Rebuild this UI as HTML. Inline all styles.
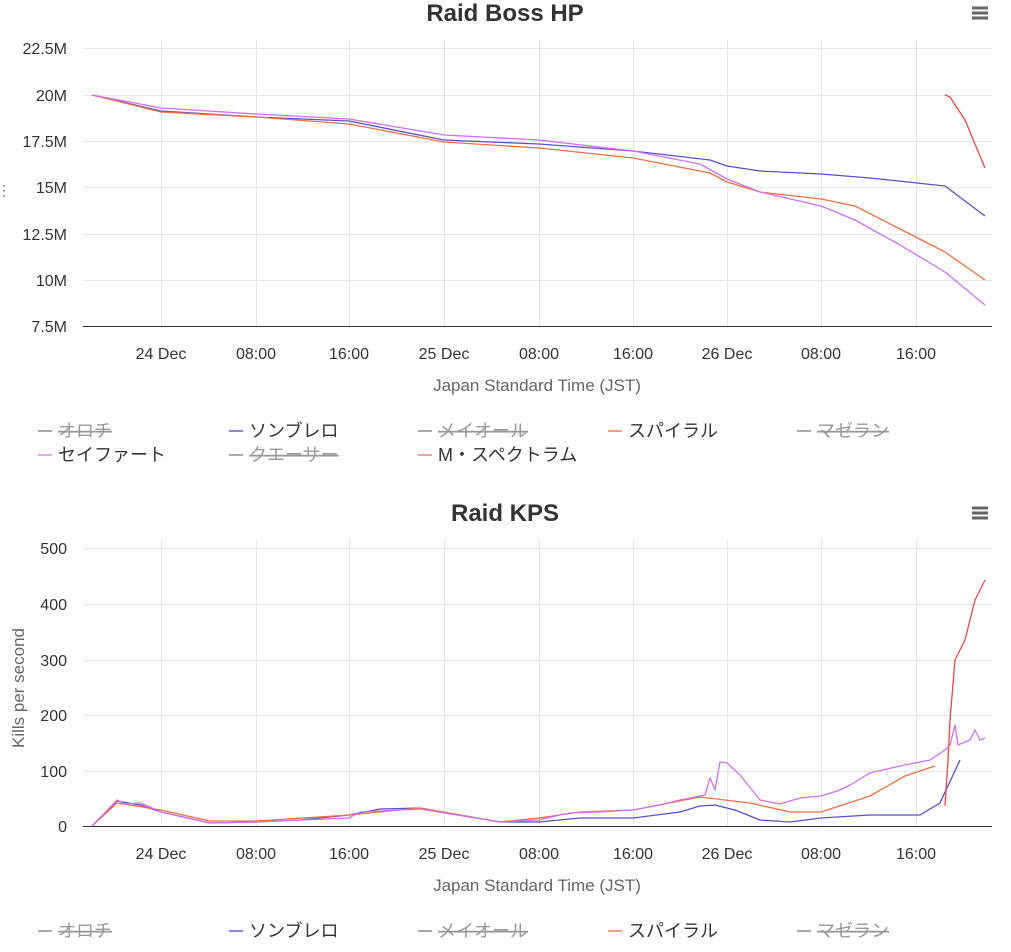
<!DOCTYPE html>
<html><head><meta charset="utf-8"><style>
body{margin:0;background:#fff;width:1011px;height:947px;overflow:hidden;font-family:"Liberation Sans","Noto Sans CJK JP",sans-serif}
</style></head><body>
<svg width="1011" height="947" xmlns="http://www.w3.org/2000/svg" font-family="Liberation Sans, Noto Sans CJK JP, sans-serif">
<g font-size="16" fill="#333" text-anchor="middle">
<text x="505" y="21" font-size="24" font-weight="bold">Raid Boss HP</text>
<text x="505" y="521" font-size="24" font-weight="bold">Raid KPS</text>
</g>
<g stroke="#666" stroke-width="3"><path d="M972 8h16M972 13h16M972 18h16M972 508h16M972 513h16M972 518h16"/></g>
<!-- top grid -->
<g stroke="#e6e6e6" stroke-width="1">
<path d="M83 48.5H992M83 95.5H992M83 141.5H992M83 187.5H992M83 234.5H992M83 280.5H992"/>
<path d="M161.5 40V326M256.5 40V326M349.5 40V326M444.5 40V326M539.5 40V326M633.5 40V326M727.5 40V326M821.5 40V326M916.5 40V326"/>
<path d="M83 548.5H992M83 604.5H992M83 660.5H992M83 715.5H992M83 771.5H992"/>
<path d="M161.5 540V826M256.5 540V826M349.5 540V826M444.5 540V826M539.5 540V826M633.5 540V826M727.5 540V826M821.5 540V826M916.5 540V826"/>
</g>
<path d="M83 326.5H992M83 826.5H992" stroke="#333" stroke-width="1"/>
<g font-size="16" fill="#333" text-anchor="end">
<text x="67" y="54">22.5M</text><text x="67" y="101">20M</text><text x="67" y="147">17.5M</text><text x="67" y="193">15M</text><text x="67" y="240">12.5M</text><text x="67" y="286">10M</text><text x="67" y="332">7.5M</text>
<text x="67" y="554">500</text><text x="67" y="610">400</text><text x="67" y="666">300</text><text x="67" y="721">200</text><text x="67" y="777">100</text><text x="67" y="832">0</text>
</g>
<g font-size="16" fill="#333" text-anchor="middle">
<text x="161" y="359">24 Dec</text><text x="256" y="359">08:00</text><text x="349" y="359">16:00</text><text x="444" y="359">25 Dec</text><text x="539" y="359">08:00</text><text x="633" y="359">16:00</text><text x="727" y="359">26 Dec</text><text x="821" y="359">08:00</text><text x="916" y="359">16:00</text>
<text x="161" y="859">24 Dec</text><text x="256" y="859">08:00</text><text x="349" y="859">16:00</text><text x="444" y="859">25 Dec</text><text x="539" y="859">08:00</text><text x="633" y="859">16:00</text><text x="727" y="859">26 Dec</text><text x="821" y="859">08:00</text><text x="916" y="859">16:00</text>
<text x="537" y="391" fill="#666" font-size="17">Japan Standard Time (JST)</text>
<text x="537" y="891" fill="#666" font-size="17">Japan Standard Time (JST)</text>
<text transform="translate(24 688) rotate(-90)" fill="#666" font-size="17">Kills per second</text>
<text x="4" y="195" fill="#666" font-size="14">⋮</text>
</g>
<g fill="none" stroke-width="1.3" stroke-linejoin="round">
<polyline stroke="#5b4fc7" points="92,95 161,111 256,117 349,121 444,140 539,144 633,151 710,160 727,166 760,171 821,174 870,178 945,186 985,216"/>
<polyline stroke="#f07040" points="92,95 161,112 256,117 349,124 444,142 539,148 633,158 710,173 727,182 760,192 821,199 855,206 900,229 945,252 985,280"/>
<polyline stroke="#d070f0" points="92,95 161,108 256,114 349,119 444,135 539,140 633,151 700,164 727,179 760,192 821,206 855,220 900,245 945,272 985,305"/>
<polyline stroke="#e84848" points="945,95 950,97 965,120 985,168"/>
<polyline stroke="#5b4fc7" points="92,826 117,801 140,805 161,812 210,823 256,822 300,820 349,815 380,809 420,808 460,815 500,822 539,822 580,818 633,818 680,812 700,806 715,805 735,810 760,820 790,822 821,818 870,815 920,815 940,803 960,760"/>
<polyline stroke="#f07040" points="92,826 117,803 161,810 210,821 256,821 349,815 420,808 500,822 539,818 580,812 633,810 700,797 750,803 790,812 821,812 870,796 905,776 935,766"/>
<polyline stroke="#d070f0" points="92,826 100,818 117,800 125,804 140,803 150,807 161,812 210,823 256,822 349,818 360,812 420,809 500,822 539,820 560,815 570,813 600,812 633,810 660,805 680,800 705,795 710,778 715,790 720,762 727,763 740,775 760,800 780,804 800,798 821,796 840,790 850,785 870,773 900,766 930,760 945,750 950,745 955,725 958,745 970,740 975,730 980,740 985,738"/>
<polyline stroke="#e84848" points="945,806 948,760 950,720 955,660 965,640 975,600 985,580"/>
</g>
<g font-size="18" fill="#333">
<g stroke-width="2">
<path d="M38 431h14M38 455h14M229 431h14M229 455h14M418 431h14M418 455h14M608 431h14M797 431h14M38 931h14M229 931h14M418 931h14M608 931h14M797 931h14" stroke="#aaa"/>
<path d="M229 431h14M229 931h14" stroke="#8f85d8"/><path d="M608 431h14M608 931h14" stroke="#f0a080"/>
<path d="M38 455h14" stroke="#e0a8f0"/><path d="M418 455h14" stroke="#f0a0a0"/>
</g>
<text x="58" y="437" fill="#999" text-decoration="line-through">オロチ</text>
<text x="249" y="437">ソンブレロ</text>
<text x="438" y="437" fill="#999" text-decoration="line-through">メイオール</text>
<text x="628" y="437">スパイラル</text>
<text x="817" y="437" fill="#999" text-decoration="line-through">マゼラン</text>
<text x="58" y="461">セイファート</text>
<text x="249" y="461" fill="#999" text-decoration="line-through">クエーサー</text>
<text x="438" y="461">M・スペクトラム</text>
<text x="58" y="937" fill="#999" text-decoration="line-through">オロチ</text>
<text x="249" y="937">ソンブレロ</text>
<text x="438" y="937" fill="#999" text-decoration="line-through">メイオール</text>
<text x="628" y="937">スパイラル</text>
<text x="817" y="937" fill="#999" text-decoration="line-through">マゼラン</text>
</g>
</svg>
</body></html>
